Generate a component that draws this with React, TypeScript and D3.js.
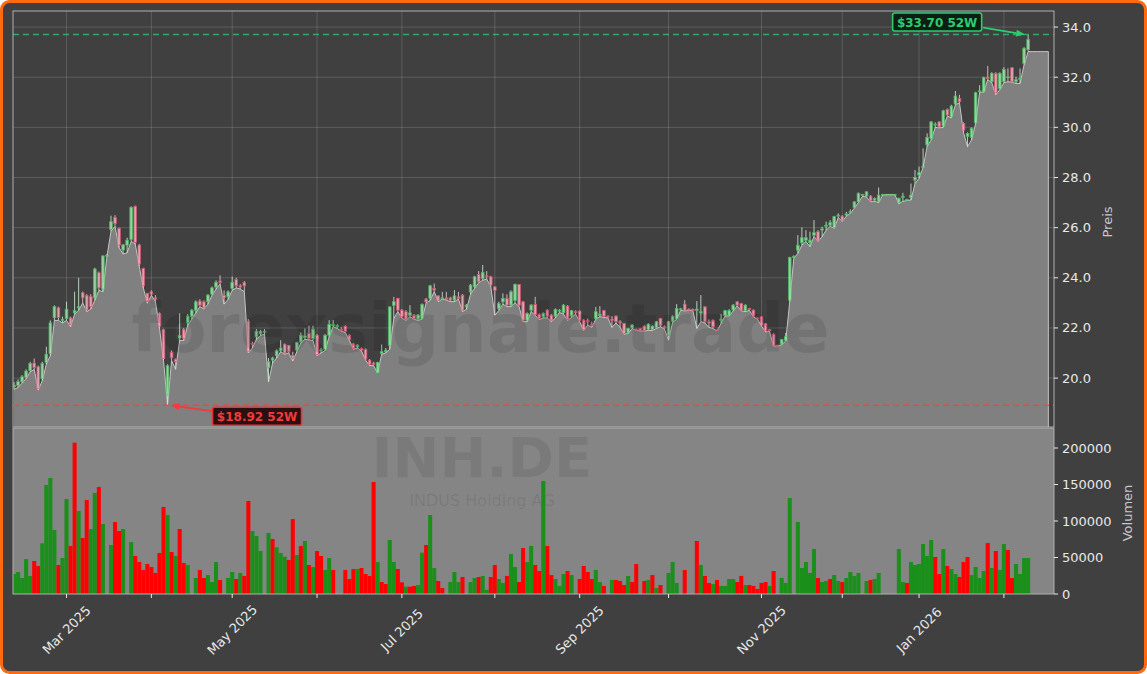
import React, { useEffect, useRef } from "react";
import * as d3 from "d3";

// Xetra trading calendar (first bar 2025-02-12, last bar 2026-02-10)
const startDate = new Date(2025, 1, 12);
const endDate = new Date(2026, 1, 11);
const holidays = ["2025-04-18", "2025-04-21", "2025-05-01", "2025-12-24", "2025-12-25", "2025-12-26", "2025-12-31", "2026-01-01"];

const opens = [
  19.65, 19.70, 19.85, 20.02, 20.30, 20.60, 20.45, 19.99, 20.62, 20.98,
  22.41, 22.80, 22.30, 22.38, 22.40, 22.60, 22.80, 23.40, 23.30, 23.25,
  23.20, 24.20, 23.55, 24.87, 25.93, 26.41, 25.97, 25.11, 25.30, 25.53,
  26.85, 25.31, 24.37, 23.38, 23.44, 23.20, 22.58, 21.94, 19.32, 21.02,
  20.75, 21.60, 21.94, 22.21, 22.45, 22.71, 23.07, 23.04, 23.05, 23.35,
  23.63, 23.87, 23.30, 23.24, 23.58, 23.93, 23.68, 23.82, 22.27, 21.38,
  21.65, 21.78, 21.85, 20.41, 20.72, 20.89,
  21.10, 21.35, 21.30, 20.90, 21.12, 21.45, 21.62, 21.78, 21.58, 21.71,
  21.10, 21.15, 21.71, 22.09, 22.05, 21.95, 22.06, 21.71, 21.36, 21.24,
  21.18, 21.14, 20.72, 20.60, 20.22, 20.98, 21.05, 21.31, 22.90, 23.18,
  22.71, 22.64, 22.50, 22.51, 22.35, 22.38, 23.15, 23.18, 23.58, 23.28,
  23.18, 23.20, 23.20, 23.11, 23.24, 23.31, 22.84, 23.44, 23.64, 24.13,
  23.97, 24.08, 24.04, 23.64, 22.78, 23.04, 23.18, 22.91, 23.10, 23.73,
  23.04, 22.31, 22.71, 22.94, 22.54, 22.45,
  22.71, 22.51, 22.47, 22.69, 22.61, 22.87, 22.47, 22.65, 22.67, 22.31,
  22.30, 22.15, 22.38, 22.50, 22.69, 22.47, 22.35, 22.47, 22.25, 22.18,
  21.81, 22.02, 21.94, 21.98, 22.07, 21.94, 21.94, 22.02, 22.38, 22.05,
  21.71, 22.27, 22.38, 22.74, 22.95, 22.75, 22.74, 22.70, 22.60, 22.84,
  22.25, 22.31, 21.93, 22.30, 22.51, 22.51, 22.72, 23.04, 22.98, 22.69,
  22.78, 22.71, 22.40, 22.45, 22.18, 21.94, 21.75, 21.31, 21.36, 21.51,
  23.11,
  24.81, 25.10, 25.40, 25.50, 25.40, 25.70, 25.84, 25.90, 26.05, 26.10,
  26.01, 26.46, 26.46, 26.50, 26.60, 26.81, 27.03, 27.30, 27.26, 27.26,
  27.10, 27.05, 27.30, 27.33, 27.33, 27.33, 27.00, 27.20, 27.10, 27.20,
  27.90, 28.10, 28.40,
  29.30, 29.56, 30.10, 30.22, 30.05, 30.71, 30.42, 30.93, 31.15, 30.16,
  29.63, 29.60, 30.18, 31.44, 31.42, 32.00, 31.82, 32.15, 31.55, 31.82,
  31.98, 32.38, 31.82, 31.90, 32.55, 33.10,
];

const highs = [
  19.85, 19.95, 20.12, 20.35, 20.65, 20.78, 20.50, 20.65, 21.25, 22.30,
  22.90, 22.85, 22.45, 23.05, 22.45, 23.45, 24.00, 23.45, 23.35, 23.35,
  24.40, 24.25, 24.90, 24.95, 26.48, 26.50, 26.00, 25.35, 25.60, 26.85,
  26.88, 25.35, 24.40, 23.40, 23.50, 23.31, 22.62, 21.97, 20.55, 21.10,
  20.78, 22.58, 22.00, 22.55, 22.75, 23.10, 23.15, 23.10, 23.35, 23.65,
  23.90, 24.10, 23.50, 23.50, 24.05, 24.00, 23.75, 23.87, 22.35, 21.45,
  21.95, 21.92, 21.95, 20.80, 20.85, 21.15,
  21.51, 21.38, 21.31, 21.05, 21.45, 21.82, 21.98, 22.09, 22.09, 21.75,
  21.20, 21.75, 22.31, 22.31, 22.15, 22.05, 22.10, 21.75, 21.40, 21.35,
  21.22, 21.18, 20.76, 20.65, 20.65, 21.34, 21.20, 22.85, 23.24, 23.20,
  22.75, 22.71, 22.91, 22.55, 22.55, 22.98, 23.20, 23.72, 23.77, 23.30,
  23.44, 23.44, 23.24, 23.51, 23.44, 23.35, 22.95, 23.75, 24.08, 24.27,
  24.51, 24.27, 24.08, 23.64, 23.05, 23.38, 23.34, 23.50, 23.77, 23.75,
  23.08, 22.62, 22.95, 23.24, 22.58, 22.62,
  22.75, 22.55, 22.78, 22.75, 22.95, 22.91, 22.72, 22.70, 22.70, 22.35,
  22.38, 22.25, 22.84, 22.87, 22.72, 22.50, 22.47, 22.50, 22.31, 22.20,
  22.00, 22.15, 21.98, 22.00, 22.10, 22.18, 22.10, 22.28, 22.40, 22.10,
  22.28, 22.50, 22.95, 22.80, 23.11, 22.78, 22.78, 23.07, 23.31, 22.86,
  22.34, 22.34, 21.95, 22.55, 22.72, 22.75, 22.95, 23.07, 23.00, 22.94,
  22.80, 22.74, 22.42, 22.48, 22.20, 21.96, 21.78, 21.33, 21.56, 21.80,
  24.84,
  24.90, 25.70, 26.01, 25.90, 25.84, 26.30, 25.90, 26.04, 26.24, 26.30,
  26.47, 26.57, 26.50, 26.63, 26.73, 27.05, 27.40, 27.35, 27.45, 27.30,
  27.20, 27.60, 27.35, 27.34, 27.34, 27.34, 27.20, 27.39, 27.15, 27.76,
  28.30, 28.43, 29.16,
  29.76, 30.25, 30.20, 30.25, 30.70, 30.75, 30.90, 31.45, 31.30, 30.20,
  29.80, 30.00, 31.42, 31.68, 32.02, 32.45, 32.20, 32.20, 32.20, 32.40,
  32.35, 32.40, 32.02, 32.35, 33.20, 33.70,
];

const lows = [
  19.55, 19.62, 19.80, 19.98, 20.25, 20.35, 19.52, 19.90, 20.55, 20.90,
  22.30, 22.30, 22.20, 22.30, 22.05, 22.55, 22.70, 23.00, 22.65, 22.75,
  23.10, 23.50, 23.45, 24.85, 25.85, 26.05, 25.20, 24.95, 25.00, 25.45,
  25.35, 24.45, 23.60, 22.98, 23.30, 23.05, 22.00, 20.70, 18.92, 20.70,
  20.35, 21.50, 21.50, 22.10, 22.35, 22.60, 22.85, 22.75, 22.95, 23.30,
  23.55, 23.75, 22.95, 23.15, 23.50, 23.60, 23.55, 23.45, 21.00, 21.20,
  21.55, 21.70, 21.75, 19.85, 20.60, 20.80,
  21.05, 20.95, 21.00, 20.68, 21.05, 21.40, 21.55, 21.52, 21.50, 20.90,
  21.00, 21.10, 21.65, 22.05, 21.98, 21.87, 21.82, 21.50, 21.15, 21.20,
  21.08, 20.72, 20.50, 20.50, 20.20, 20.95, 21.00, 21.15, 22.38, 22.65,
  22.40, 22.30, 22.45, 22.35, 22.30, 22.35, 23.00, 23.10, 23.45, 23.05,
  23.15, 23.11, 23.05, 23.05, 23.15, 22.65, 22.75, 23.35, 23.58, 23.80,
  23.90, 23.95, 23.65, 22.51, 22.70, 22.95, 22.85, 22.85, 23.00, 22.85,
  22.25, 22.25, 22.65, 22.50, 22.33, 22.40,
  22.40, 22.25, 22.40, 22.62, 22.55, 22.30, 22.42, 22.55, 22.25, 21.90,
  22.11, 22.02, 22.35, 22.45, 22.42, 22.40, 22.02, 22.20, 22.02, 21.75,
  21.78, 21.98, 21.90, 21.88, 21.88, 21.90, 21.90, 21.98, 22.05, 21.95,
  21.51, 22.22, 22.35, 22.70, 22.68, 22.70, 22.70, 21.98, 22.25, 22.20,
  22.02, 21.98, 21.88, 22.18, 22.48, 22.48, 22.68, 22.88, 22.68, 22.65,
  22.70, 22.44, 22.35, 22.08, 21.85, 21.85, 21.28, 21.28, 21.33, 21.48,
  23.05,
  24.78, 24.97, 25.30, 25.45, 25.24, 25.65, 25.45, 25.64, 25.90, 26.05,
  25.98, 26.40, 26.25, 26.46, 26.57, 26.78, 27.00, 27.25, 27.22, 27.03,
  27.05, 27.00, 27.30, 27.32, 27.32, 27.32, 26.95, 27.05, 27.08, 27.10,
  27.76, 27.96, 28.40,
  29.23, 29.50, 30.00, 29.98, 30.00, 30.45, 30.38, 30.90, 30.98, 29.80,
  29.23, 29.50, 30.15, 31.40, 31.40, 31.90, 31.78, 31.30, 31.50, 31.78,
  31.82, 31.80, 31.75, 31.75, 32.50, 33.02,
];

const closes = [
  19.72, 19.86, 20.05, 20.28, 20.58, 20.42, 19.58, 20.58, 20.95, 22.20,
  22.85, 22.42, 22.35, 22.75, 22.14, 22.70, 22.85, 23.20, 22.72, 22.85,
  24.35, 23.60, 24.87, 24.90, 26.24, 26.16, 25.31, 25.31, 25.50, 26.81,
  25.41, 24.55, 23.68, 23.07, 23.35, 23.15, 22.07, 20.78, 20.49, 20.81,
  20.65, 21.70, 21.58, 22.47, 22.71, 23.04, 22.91, 22.80, 23.31, 23.60,
  23.82, 23.82, 23.20, 23.44, 23.82, 23.68, 23.63, 23.68, 21.05, 21.35,
  21.87, 21.87, 21.87, 20.65, 20.80, 21.09,
  21.20, 21.00, 21.05, 20.80, 21.42, 21.71, 21.68, 21.58, 21.95, 20.94,
  21.12, 21.71, 22.14, 22.14, 22.09, 21.90, 21.87, 21.55, 21.18, 21.31,
  21.12, 20.76, 20.54, 20.55, 20.62, 21.05, 21.12, 22.84, 23.05, 22.71,
  22.45, 22.35, 22.60, 22.38, 22.51, 22.94, 23.04, 23.68, 23.51, 23.11,
  23.20, 23.15, 23.11, 23.28, 23.18, 22.71, 22.91, 23.71, 24.04, 23.84,
  24.21, 24.04, 23.71, 23.50, 22.98, 23.18, 22.91, 23.44, 23.73, 22.91,
  22.31, 22.58, 22.91, 22.54, 22.38, 22.58,
  22.47, 22.31, 22.74, 22.71, 22.91, 22.34, 22.69, 22.63, 22.31, 21.94,
  22.25, 22.10, 22.65, 22.55, 22.47, 22.45, 22.30, 22.25, 22.20, 21.78,
  21.98, 22.11, 21.93, 21.91, 21.91, 22.15, 22.07, 22.25, 22.11, 22.00,
  22.25, 22.47, 22.78, 22.76, 22.71, 22.72, 22.73, 22.75, 22.65, 22.25,
  22.20, 22.05, 21.91, 22.35, 22.69, 22.69, 22.91, 22.91, 22.71, 22.91,
  22.74, 22.47, 22.38, 22.11, 21.89, 21.89, 21.31, 21.30, 21.54, 21.65,
  24.81,
  24.85, 25.30, 25.60, 25.60, 25.50, 25.80, 25.50, 25.95, 26.10, 26.20,
  26.44, 26.50, 26.30, 26.55, 26.65, 27.03, 27.37, 27.32, 27.43, 27.07,
  27.17, 27.30, 27.32, 27.33, 27.33, 27.33, 27.17, 27.25, 27.12, 27.30,
  28.00, 28.20, 28.45,
  29.60, 30.22, 30.13, 30.02, 30.66, 30.49, 30.85, 31.25, 31.02, 29.89,
  29.76, 29.96, 31.38, 31.46, 31.99, 31.95, 32.15, 31.38, 32.15, 32.31,
  32.02, 31.82, 31.90, 31.95, 33.15, 33.50,
];

const volumes = [
  27400, 30100, 21900, 47900, 24700, 45200, 38400, 69400, 149300, 158900,
  87700, 39700, 49300, 130100, 65800, 207300, 113700, 76700, 128800, 89000,
  138300, 146600, 95900, 0, 67100, 98600, 86300, 89000, 0, 71200,
  52100, 43800, 32900, 41100, 37000, 28800, 56200, 119200, 108200, 57500,
  52100, 89000, 42500, 39700, 0, 21900, 32900, 21900, 26000, 16400,
  43800, 19200, 0, 21900, 30100, 20500, 28800, 24700, 127400, 86300,
  79400, 58900, 0, 83600, 75300, 63900, 56200, 51100, 46600, 102700,
  53400, 65800, 72600, 39700, 37000, 58900, 52100, 32900, 49300, 32900,
  0, 0, 32900, 20500, 34200, 34200, 35600, 27400, 24700, 153400,
  43800, 16400, 13700, 74000, 43800, 34200, 16000, 10000, 10000, 11000,
  12300, 56600, 67100, 108200, 35600, 17800, 8200, 0, 16400, 30100,
  16400, 23300, 0, 16400, 21900, 23300, 24700, 5500, 23300, 39700,
  20500, 15100, 24700, 54800, 37000, 16400, 63000, 43800, 65800, 39700,
  31500, 154800, 65800, 26000, 20500, 11000, 27400, 31500, 26000, 0,
  20500, 38400, 30100, 20500, 32900, 16400, 11000, 0, 19200, 19200,
  17800, 12300, 24700, 16400, 41100, 0, 17800, 19200, 26000, 8200,
  12300, 0, 28800, 43800, 15100, 0, 32900, 0, 0, 72600,
  39700, 24700, 15100, 13700, 19200, 11000, 11000, 20500, 20500, 16400,
  24700, 12300, 12300, 11000, 6800, 15100, 16400, 11000, 31500, 0,
  21900, 15100, 131500, 0, 98600, 35600, 43800, 28800, 61600, 21900,
  16400, 17800, 20500, 26000, 17800, 16400, 21900, 30100, 24700, 28800,
  0, 17800, 19200, 20500, 28800, 0, 0, 0, 0, 61600,
  16400, 15100, 43800, 39700, 41100, 68500, 52100, 74000, 50700, 27400,
  61600, 38400, 34200, 27400, 23300, 43800, 50700, 26000, 37000, 21900,
  31500, 69900, 35600, 58900, 32900, 68500, 60300, 21900, 41100, 27400,
  49300, 49300,
];

// g = up volume, r = down volume, - = none
const volumeSides = (
  "gggggrrggg" + "grggrrgrrg" + "grg-grrg-g" + "rrrrrrrrgr" + "grrg-grrgg" +
  "gr-ggrgrrg" + "gg-grgggrr" + "grgrgrrggr" + "--rrrgrrrr" + "grrggrrgrr" +
  "ggrggrr-gg" + "gr-ggrggrr" + "ggrggrrggr" + "rgrrgggrg-" + "rrrrggr-gr" +
  "rrgrr-rgrg" + "r-ggg-r--r" + "grrgrggggr" + "rgrrrrrgr-" + "ggg-gggggr" +
  "ggrggrgggg" + "-grgg----g" + "grggggggrr" + "grggrrrggg" + "grgrggrrgg" + "gg"
).split("");

// shaded area keeps going a few sessions after the last candle
const areaTail = [33.02, 33.02, 33.02, 33.02, 33.02];

const priceTicks = [20, 22, 24, 26, 28, 30, 32, 34];
const volumeTicks = [0, 50000, 100000, 150000, 200000];
const monthTicks = ["2025-03", "2025-04", "2025-05", "2025-06", "2025-07", "2025-08", "2025-09", "2025-10", "2025-11", "2025-12", "2026-01", "2026-02"];
const monthLabels = ["Mar 2025", "", "May 2025", "", "Jul 2025", "", "Sep 2025", "", "Nov 2025", "", "Jan 2026", ""];

const high52 = 33.7;
const low52 = 18.92;

export default function App() {
  const svgRef = useRef<SVGSVGElement>(null);

  useEffect(() => {
    document.body.style.margin = "0";
    if (!svgRef.current) return;
    const svg = d3.select(svgRef.current);
    svg.selectAll("*").remove();

    const W = 1147;
    const H = 674;
    const left = 13;
    const right = 1054;
    const priceTop = 11;
    const priceBottom = 427;
    const volTop = 428;
    const volBottom = 594;
    const font = "DejaVu Sans, Verdana, sans-serif";

    const fmtDay = d3.timeFormat("%Y-%m-%d");
    const fmtMonth = d3.timeFormat("%Y-%m");
    const dates = d3
      .timeDay.range(startDate, endDate)
      .filter((d) => d.getDay() !== 0 && d.getDay() !== 6 && !holidays.includes(fmtDay(d)));

    const n = closes.length;
    const x = d3.scaleLinear().domain([-0.25, 257.4]).range([left, right]);
    const y = d3.scaleLinear().domain([18.05, 34.64]).range([priceBottom, priceTop]);
    const yv = d3.scaleLinear().domain([0, 227400]).range([volBottom, volTop]);
    const step = x(1) - x(0);

    // figure background + orange frame
    svg.append("rect").attr("width", W).attr("height", H).attr("fill", "#ffffff");
    svg
      .append("rect")
      .attr("x", 1.5)
      .attr("y", 1.5)
      .attr("width", W - 3)
      .attr("height", H - 3)
      .attr("rx", 8)
      .attr("fill", "#404040")
      .attr("stroke", "#ff6a10")
      .attr("stroke-width", 3);

    const defs = svg.append("defs");
    defs.append("clipPath").attr("id", "priceClip").append("rect")
      .attr("x", left).attr("y", priceTop).attr("width", right - left).attr("height", priceBottom - priceTop);
    defs.append("clipPath").attr("id", "volClip").append("rect")
      .attr("x", left).attr("y", volTop).attr("width", right - left).attr("height", volBottom - volTop);

    const tickIdx = monthTicks.map((m) => dates.findIndex((d) => fmtMonth(d) === m));

    // ---- price panel ----
    const pg = svg.append("g").attr("clip-path", "url(#priceClip)");

    // grid
    pg.selectAll(".hgrid")
      .data(priceTicks)
      .enter()
      .append("line")
      .attr("x1", left).attr("x2", right)
      .attr("y1", (d) => y(d)).attr("y2", (d) => y(d))
      .attr("stroke", "#ffffff").attr("stroke-opacity", 0.15).attr("stroke-width", 1);
    pg.selectAll(".vgrid")
      .data(tickIdx)
      .enter()
      .append("line")
      .attr("x1", (d) => x(d)).attr("x2", (d) => x(d))
      .attr("y1", priceTop).attr("y2", priceBottom)
      .attr("stroke", "#ffffff").attr("stroke-opacity", 0.15).attr("stroke-width", 1);

    // shaded area along the lows
    const areaVals = lows.concat(areaTail);
    const area = d3
      .area<number>()
      .x((_, i) => x(i))
      .y0(priceBottom)
      .y1((d) => y(d));
    pg.append("path").attr("d", area(areaVals)).attr("fill", "#808080");
    const edge = d3.line<number>().x((_, i) => x(i)).y((d) => y(d));
    pg.append("path")
      .attr("d", (edge(areaVals) as string) + `L${x(areaVals.length - 1)},${priceBottom}`)
      .attr("fill", "none")
      .attr("stroke", "#c4c4c4")
      .attr("stroke-width", 1);

    // candles
    const bodyW = step * 0.66;
    const candles = pg
      .selectAll(".candle")
      .data(d3.range(n))
      .enter()
      .append("g")
      .attr("opacity", 0.82);
    candles
      .append("line")
      .attr("x1", (i) => x(i)).attr("x2", (i) => x(i))
      .attr("y1", (i) => y(highs[i])).attr("y2", (i) => y(lows[i]))
      .attr("stroke", (i) => (closes[i] >= opens[i] ? "#d2ecd4" : "#ecd0d6"))
      .attr("stroke-width", 1);
    candles
      .append("rect")
      .attr("x", (i) => x(i) - bodyW / 2)
      .attr("width", bodyW)
      .attr("y", (i) => y(Math.max(opens[i], closes[i])))
      .attr("height", (i) => Math.max(1, Math.abs(y(opens[i]) - y(closes[i]))))
      .attr("fill", (i) => (closes[i] >= opens[i] ? "#b6e8bd" : "#f4bcc8"))
      .attr("stroke", (i) => (closes[i] >= opens[i] ? "#4cd066" : "#ec5a78"))
      .attr("stroke-width", 0.8);

    // 52W lines
    pg.append("line")
      .attr("x1", left).attr("x2", right)
      .attr("y1", y(high52)).attr("y2", y(high52))
      .attr("stroke", "#2ecc71").attr("stroke-opacity", 0.75)
      .attr("stroke-width", 1.6).attr("stroke-dasharray", "6,4");
    pg.append("line")
      .attr("x1", left).attr("x2", right)
      .attr("y1", y(low52)).attr("y2", y(low52))
      .attr("stroke", "#ff3b3b").attr("stroke-opacity", 0.8)
      .attr("stroke-width", 1.6).attr("stroke-dasharray", "6,4");

    // watermark
    svg.append("text")
      .attr("x", (left + right) / 2 - 53)
      .attr("y", 352)
      .attr("text-anchor", "middle")
      .attr("font-family", font)
      .attr("font-weight", "bold")
      .attr("font-size", 67)
      .attr("fill", "#000000")
      .attr("fill-opacity", 0.1)
      .text("forexsignale.trade");

    // ---- volume panel ----
    svg.append("rect")
      .attr("x", left).attr("y", volTop)
      .attr("width", right - left).attr("height", volBottom - volTop)
      .attr("fill", "#858585");

    svg.append("text")
      .attr("x", 482).attr("y", 477)
      .attr("text-anchor", "middle")
      .attr("font-family", font).attr("font-weight", "bold").attr("font-size", 56)
      .attr("fill", "#000000").attr("fill-opacity", 0.08)
      .text("INH.DE");
    svg.append("text")
      .attr("x", 482).attr("y", 506)
      .attr("text-anchor", "middle")
      .attr("font-family", font).attr("font-size", 16)
      .attr("fill", "#000000").attr("fill-opacity", 0.09)
      .text("INDUS Holding AG");

    const vg = svg.append("g").attr("clip-path", "url(#volClip)");
    vg.selectAll(".vol")
      .data(d3.range(n).filter((i) => volumes[i] > 0))
      .enter()
      .append("rect")
      .attr("x", (i) => x(i) - step / 2)
      .attr("width", step)
      .attr("y", (i) => yv(volumes[i]))
      .attr("height", (i) => volBottom - yv(volumes[i]))
      .attr("fill", (i) => (volumeSides[i] === "g" ? "#1a8f1a" : "#ff0000"));

    // spines
    const spine = "#b0b0b0";
    svg.append("rect")
      .attr("x", left).attr("y", priceTop)
      .attr("width", right - left).attr("height", priceBottom - priceTop)
      .attr("fill", "none").attr("stroke", spine).attr("stroke-width", 1);
    svg.append("rect")
      .attr("x", left).attr("y", volTop)
      .attr("width", right - left).attr("height", volBottom - volTop)
      .attr("fill", "none").attr("stroke", spine).attr("stroke-width", 1);

    // right axes
    const tickColor = "#e8e8e8";
    const pAxis = svg.append("g");
    priceTicks.forEach((t) => {
      pAxis.append("line").attr("x1", right).attr("x2", right + 4).attr("y1", y(t)).attr("y2", y(t)).attr("stroke", tickColor);
      pAxis.append("text")
        .attr("x", right + 8).attr("y", y(t))
        .attr("dominant-baseline", "central")
        .attr("font-family", font).attr("font-size", 13).attr("fill", tickColor)
        .text(t.toFixed(1));
    });
    volumeTicks.forEach((t) => {
      pAxis.append("line").attr("x1", right).attr("x2", right + 4).attr("y1", yv(t)).attr("y2", yv(t)).attr("stroke", tickColor);
      pAxis.append("text")
        .attr("x", right + 8).attr("y", yv(t))
        .attr("dominant-baseline", "central")
        .attr("font-family", font).attr("font-size", 13).attr("fill", tickColor)
        .text(String(t));
    });
    svg.append("text")
      .attr("transform", `translate(1107,${(priceTop + priceBottom) / 2 + 3}) rotate(-90)`)
      .attr("text-anchor", "middle").attr("dominant-baseline", "central")
      .attr("font-family", font).attr("font-size", 13).attr("fill", "#c8c8c8")
      .text("Preis");
    svg.append("text")
      .attr("transform", `translate(1127,${(volTop + volBottom) / 2 + 2}) rotate(-90)`)
      .attr("text-anchor", "middle").attr("dominant-baseline", "central")
      .attr("font-family", font).attr("font-size", 13).attr("fill", "#c8c8c8")
      .text("Volumen");

    // bottom date axis
    tickIdx.forEach((ti, k) => {
      svg.append("line").attr("x1", x(ti)).attr("x2", x(ti)).attr("y1", volBottom).attr("y2", volBottom + 4).attr("stroke", tickColor);
      if (monthLabels[k]) {
        svg.append("text")
          .attr("transform", `translate(${x(ti)},630) rotate(-45)`)
          .attr("text-anchor", "middle").attr("dominant-baseline", "central")
          .attr("font-family", font).attr("font-size", 13).attr("fill", tickColor)
          .text(monthLabels[k]);
      }
    });

    // 52W annotations
    const hiIdx = highs.indexOf(d3.max(highs) as number);
    const loIdx = lows.indexOf(d3.min(lows) as number);

    const arrow = (x1: number, y1: number, x2: number, y2: number, color: string) => {
      const a = Math.atan2(y2 - y1, x2 - x1);
      const L = 9;
      const hw = 3.5;
      const bx = x2 - L * Math.cos(a);
      const by = y2 - L * Math.sin(a);
      svg.append("line").attr("x1", x1).attr("y1", y1).attr("x2", bx).attr("y2", by)
        .attr("stroke", color).attr("stroke-width", 1.8);
      svg.append("path")
        .attr("d", `M${x2},${y2}L${bx - hw * Math.sin(a)},${by + hw * Math.cos(a)}L${bx + hw * Math.sin(a)},${by - hw * Math.cos(a)}Z`)
        .attr("fill", color);
    };

    const label = (cx: number, cy: number, text: string, fill: string, stroke: string, color: string) => {
      svg.append("rect")
        .attr("x", cx - 44.5).attr("y", cy - 9)
        .attr("width", 89).attr("height", 18).attr("rx", 2)
        .attr("fill", fill).attr("stroke", stroke).attr("stroke-width", 1.6);
      svg.append("text")
        .attr("x", cx).attr("y", cy + 0.5)
        .attr("text-anchor", "middle").attr("dominant-baseline", "central")
        .attr("font-family", font).attr("font-weight", "bold").attr("font-size", 12)
        .attr("fill", color)
        .text(text);
    };

    const hx = x(hiIdx);
    const hy = y(high52);
    arrow(hx - 45, hy - 7, hx - 3, hy, "#2ecc71");
    label(hx - 91, hy - 12.5, `$${high52.toFixed(2)} 52W`, "#0c1f12", "#2ecc71", "#2ecc71");

    const lx = x(loIdx);
    const ly = y(low52);
    arrow(lx + 44, ly + 6, lx + 3, ly, "#f03c3c");
    label(lx + 89.5, ly + 11, `$${low52.toFixed(2)} 52W`, "#2a1010", "#e83434", "#f03c3c");
  }, []);

  return <svg ref={svgRef} width={1147} height={674} style={{ display: "block" }} />;
}
